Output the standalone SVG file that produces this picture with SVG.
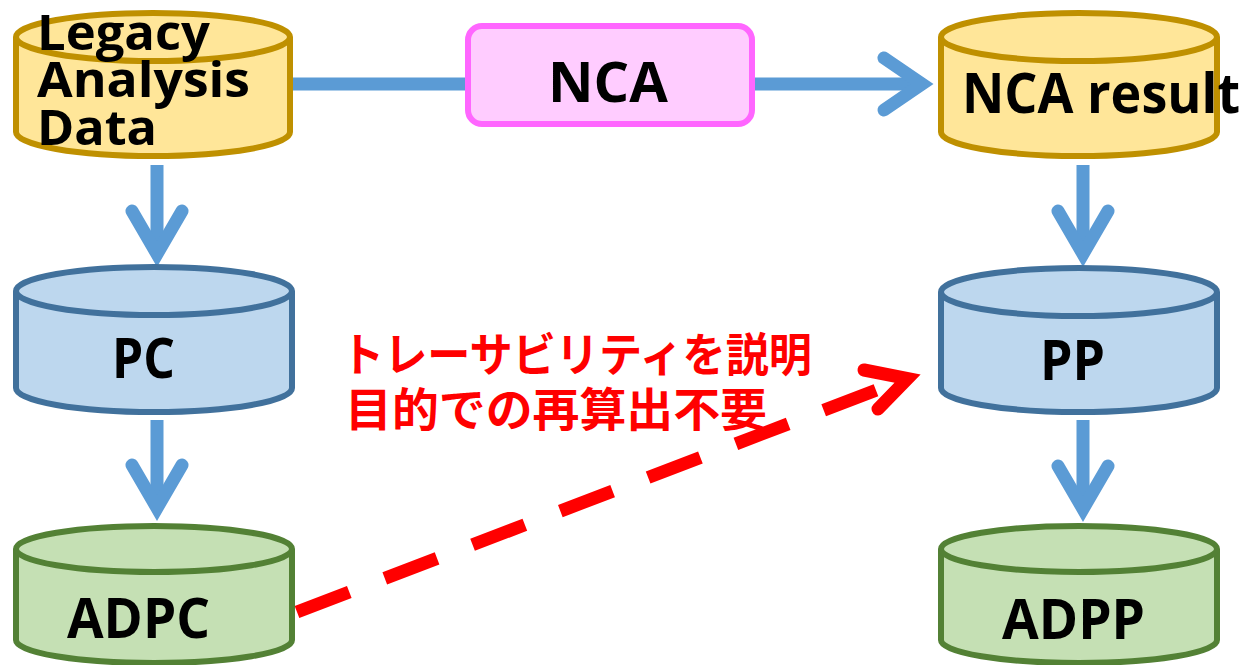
<svg xmlns="http://www.w3.org/2000/svg" width="1244" height="665" viewBox="0 0 1244 665">
<style>
.y{fill:#FFE699;stroke:#BF9000;stroke-width:6}
.b{fill:#BDD7EE;stroke:#41719C;stroke-width:6}
.g{fill:#C5E0B4;stroke:#538135;stroke-width:6}
.lbl{font-family:"Open Sans","Liberation Sans",sans-serif;font-weight:bold;fill:#000}
.ar{fill:none;stroke:#5B9BD5;stroke-width:13}
.ah{fill:none;stroke:#5B9BD5;stroke-width:13;stroke-linecap:round;stroke-linejoin:miter;stroke-miterlimit:10}
.red{font-family:"Noto Sans CJK JP",sans-serif;font-weight:bold;font-size:46px;fill:#FF0000}
</style>
<rect width="1244" height="665" fill="#FFFFFF"/>
<g id="connectors">
<line class="ar" x1="290" y1="84" x2="468" y2="84"/>
<line class="ar" x1="752" y1="84" x2="922" y2="84"/>
<polyline class="ah" points="884,58 922,84 884,110"/>
<line class="ar" x1="157" y1="165" x2="157" y2="254"/>
<polyline class="ah" points="132,211 157,254 182,211"/>
<line class="ar" x1="157" y1="420" x2="157" y2="508"/>
<polyline class="ah" points="132,465 157,508 182,465"/>
<line class="ar" x1="1083" y1="165" x2="1083" y2="254"/>
<polyline class="ah" points="1058,211 1083,254 1108,211"/>
<line class="ar" x1="1083" y1="420" x2="1083" y2="509"/>
<polyline class="ah" points="1058,466 1083,509 1108,466"/>
<line x1="297" y1="612" x2="900" y2="381" stroke="#FF0000" stroke-width="13" stroke-dasharray="56 38"/>
<polyline points="864,370 907.6,378.5 878,409" fill="none" stroke="#FF0000" stroke-width="13" stroke-linecap="round" stroke-linejoin="miter" stroke-miterlimit="10"/>
</g>
<g id="legacy">
<path class="y" d="M16,37 V132 A137,24 0 0 0 290,132 V37"/>
<ellipse class="y" cx="153" cy="37" rx="137" ry="24"/>
<text class="lbl" font-size="48" x="37" y="50" textLength="173" lengthAdjust="spacingAndGlyphs">Legacy</text>
<text class="lbl" font-size="48" x="37" y="97" textLength="213" lengthAdjust="spacingAndGlyphs">Analysis</text>
<text class="lbl" font-size="48" x="37" y="145" textLength="120" lengthAdjust="spacingAndGlyphs">Data</text>
</g>
<g id="nca">
<rect x="468" y="26" width="284" height="98" rx="14" fill="#FFCCFF" stroke="#FF66FF" stroke-width="6"/>
<text class="lbl" font-size="56" x="608" y="102" text-anchor="middle">NCA</text>
</g>
<g id="ncaresult">
<path class="y" d="M941,37 V132 A138,24 0 0 0 1217,132 V37"/>
<ellipse class="y" cx="1079" cy="37" rx="138" ry="24"/>
<text class="lbl" font-size="56" x="962" y="113" textLength="278" lengthAdjust="spacingAndGlyphs">NCA result</text>
</g>
<g id="pc">
<path class="b" d="M16,291 V388 A138,24 0 0 0 292,388 V291"/>
<ellipse class="b" cx="154" cy="291" rx="138" ry="24"/>
<text class="lbl" font-size="56" x="112" y="378" textLength="63" lengthAdjust="spacingAndGlyphs">PC</text>
</g>
<g id="pp">
<path class="b" d="M941,292 V388 A138,24 0 0 0 1217,388 V292"/>
<ellipse class="b" cx="1079" cy="292" rx="138" ry="24"/>
<text class="lbl" font-size="56" x="1040" y="380" textLength="65" lengthAdjust="spacingAndGlyphs">PP</text>
</g>
<g id="adpc">
<path class="g" d="M16,549 V640 A138,23 0 0 0 292,640 V549"/>
<ellipse class="g" cx="154" cy="549" rx="138" ry="23"/>
<text class="lbl" font-size="56" x="67" y="638" textLength="143" lengthAdjust="spacingAndGlyphs">ADPC</text>
</g>
<g id="adpp">
<path class="g" d="M941,549 V640 A138,23 0 0 0 1217,640 V549"/>
<ellipse class="g" cx="1079" cy="549" rx="138" ry="23"/>
<text class="lbl" font-size="56" x="1002" y="639" textLength="143" lengthAdjust="spacingAndGlyphs">ADPP</text>
</g>
<g id="note">
<text class="red" x="341" y="371" textLength="471" lengthAdjust="spacingAndGlyphs">トレーサビリティを説明</text>
<text class="red" x="345" y="426" textLength="422" lengthAdjust="spacingAndGlyphs">目的での再算出不要</text>
</g>
</svg>
